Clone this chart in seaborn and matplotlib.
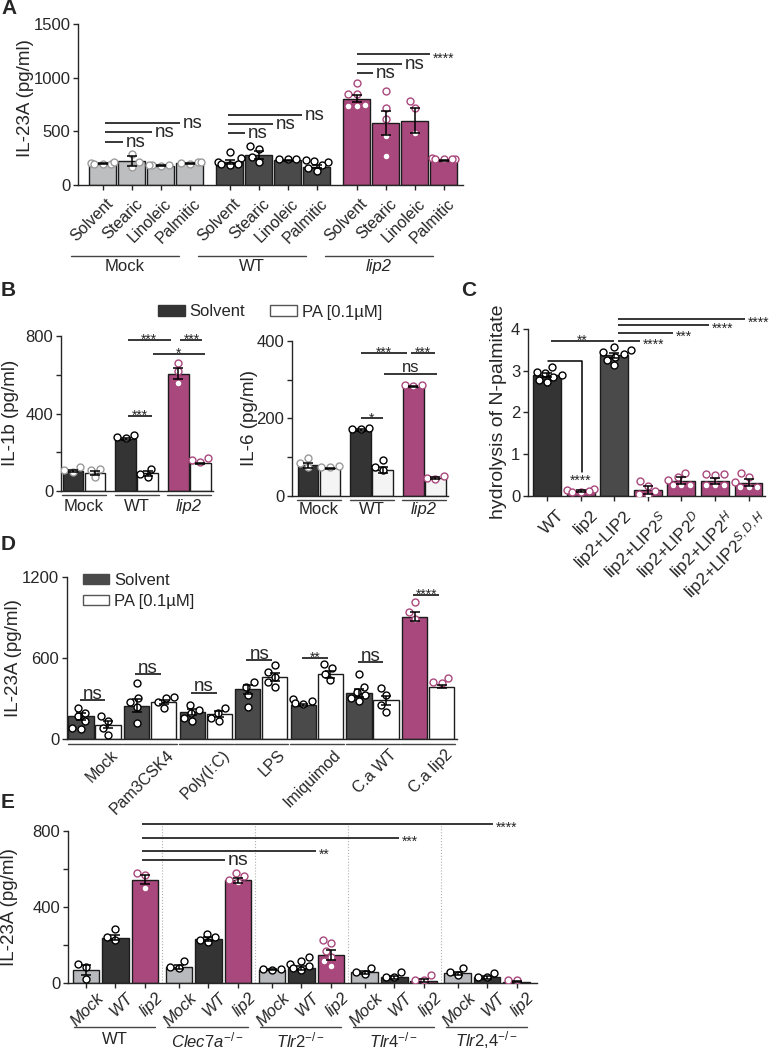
import warnings
import numpy as np
import pandas as pd
import seaborn as sns
import matplotlib.pyplot as plt
from matplotlib import transforms
from matplotlib.patches import Patch

warnings.filterwarnings("ignore")

W, H = 777, 1050

# colours
MOCK = '#bdbec0'
DARK = '#343434'
MID = '#4a4a4a'
LIP2 = '#a9487c'
DOT_GREY = '#9a9a9a'
PA_LIGHT = '#f4f4f4'

# ---- Panel A: IL-23A, fatty acids
a_groups = ['Mock', 'WT', 'lip2']
a_treatments = ['Solvent', 'Stearic', 'Linoleic', 'Palmitic']
a_means = [198, 224, 178, 203, 212, 280, 230, 172, 805, 580, 598, 228]
a_sems = [6, 45, 4, 6, 18, 35, 4, 18, 35, 110, 115, 5]
a_points = [[195, 205, 200, 210, 198], [285, 215, 170], [185, 182, 188, 180],
            [210, 205, 200, 215], [305, 250, 215, 200, 190, 195], [360, 335, 265, 215],
            [240, 245, 238], [235, 225, 210, 190, 160, 130],
            [948, 845, 845, 750, 736, 736], [876, 720, 612, 457, 270], [783, 715, 487],
            [250, 245, 240, 245, 238]]
# (bar i, dx, bar j, dx, level, text)
a_sig = [(0, 0.1, 1, -0.3, 404, 'ns'), (0, 0.1, 2, -0.3, 491, 'ns'), (0, 0.1, 3, -0.33, 575, 'ns'),
         (4, -0.05, 5, -0.47, 488, 'ns'), (4, -0.05, 6, -0.5, 568, 'ns'), (4, -0.05, 7, -0.5, 652, 'ns'),
         (8, 0.02, 9, -0.43, 1047, 'ns'), (8, 0.02, 10, -0.43, 1131, 'ns'), (8, 0.02, 11, -0.47, 1218, '****')]

# ---- Panel B: IL-1b and IL-6
b_groups = ['Mock', 'WT', 'lip2']
b1_means = [105, 94, 268, 91, 606, 142]
b1_sems = [5, 10, 4, 12, 30, 5]
b1_points = [[125, 108, 100], [112, 110, 72], [288, 280, 276], [112, 90, 72],
             [663, 620, 555], [168, 151, 160]]
b1_sig = [(2, 0.1, 4, -0.35, 778, '***'), (4, 0.1, 5, 0.1, 778, '***'),
          (3, 0.25, 5, 0.2, 706, '*'), (2, 0.1, 3, 0.2, 386, '***')]
b6_means = [79, 71, 170, 68, 282, 47]
b6_sems = [6, 2, 2, 8, 2, 3]
b6_points = [[97, 84, 75], [77, 74, 76], [174, 172, 175], [92, 75, 66],
             [286, 284, 287], [52, 45, 47]]
b6_sig = [(2, 0.0, 4, -0.3, 370, '***'), (4, -0.1, 5, 0.0, 370, '***'),
          (3, 0.05, 5, 0.1, 316, 'ns'), (2, 0.0, 3, 0.0, 200, '*')]

# ---- Panel C: hydrolysis of N-palmitate
c_labels = ['WT', 'lip2', 'lip2+LIP2', r'lip2+LIP2$^{S}$', r'lip2+LIP2$^{D}$',
            r'lip2+LIP2$^{H}$', r'lip2+LIP2$^{S,D,H}$']
c_means = [2.9, 0.12, 3.37, 0.14, 0.37, 0.36, 0.32]
c_sems = [0.05, 0.02, 0.06, 0.1, 0.08, 0.08, 0.08]
c_points = [[3.08, 2.98, 2.95, 2.9, 2.86, 2.78, 2.72], [0.16, 0.14, 0.12, 0.1, 0.1],
            [3.56, 3.5, 3.44, 3.4, 3.34, 3.26, 3.14], [0.36, 0.25, 0.12, 0.05, 0.02],
            [0.54, 0.45, 0.38, 0.27, 0.27, 0.27], [0.52, 0.52, 0.5, 0.26, 0.26, 0.26],
            [0.54, 0.46, 0.34, 0.22, 0.22, 0.22]]
c_sig_side = [(2, 0.11, 3, -0.23, 3.72, '****'), (2, 0.11, 4, -0.25, 3.9, '***'),
              (2, 0.11, 5, -0.18, 4.1, '****'), (2, 0.11, 6, -0.11, 4.24, '****')]
c_sig_top = [(0, 0.12, 2, 0.0, 3.72, '**')]
c_bracket = (0, 1, 3.24, 0.58, 0.46, '****')

# ---- Panel D: IL-23A, TLR ligands
d_stimuli = ['Mock', 'Pam3CSK4', 'Poly(I:C)', 'LPS', 'Imiquimod', 'C.a WT', 'C.a lip2']
d_means = [167, 105, 248, 272, 199, 186, 368, 461, 252, 478, 338, 287, 907, 387]
d_sems = [25, 25, 50, 15, 20, 20, 35, 30, 10, 25, 30, 35, 35, 10]
d_points = [[233, 196, 167, 130, 81, 74], [167, 130, 81, 32], [412, 301, 277, 240, 118],
            [314, 301, 277, 228], [252, 216, 191, 154, 130], [228, 191, 154, 130],
            [419, 387, 326, 240], [547, 498, 461, 424, 387], [300, 285, 270, 262],
            [559, 527, 485, 436], [480, 387, 350, 326, 301, 282], [375, 326, 252, 203],
            [1012, 939, 890], [453, 424, 412]]
d_sig_levels = [289, 478, 343, 583, 603, 571, 1069]
d_sig_text = ['ns', 'ns', 'ns', 'ns', '**', 'ns', '****']

# ---- Panel E: IL-23A in knockout cells
e_groups = ['WT', r'$\mathit{Clec7a}^{-/-}$', r'$\mathit{Tlr2}^{-/-}$',
            r'$\mathit{Tlr4}^{-/-}$', r'$\mathit{Tlr2{,}4}^{-/-}$']
e_strains = ['Mock', 'WT', 'lip2']
e_means = [68, 239, 544, 86, 230, 540, 71, 81, 147, 57, 30, 12, 51, 30, 6]
e_sems = [25, 15, 25, 10, 10, 12, 3, 10, 25, 8, 8, 8, 8, 8, 3]
e_points = [[102, 84, 23], [286, 242, 225], [579, 567, 502],
            [114, 84, 79], [260, 242, 225, 216], [579, 561, 540, 532],
            [75, 72, 70], [137, 117, 102, 91, 77, 68], [226, 208, 170, 135, 114, 88],
            [77, 59, 48], [57, 33, 30], [40, 17, 14],
            [77, 59, 42], [55, 33, 30], [17, 14]]
e_sig = [(2, -0.1, 5, -0.44, 647, 'ns'), (2, -0.1, 8, -0.5, 695, '**'),
         (2, -0.1, 11, -0.85, 763, '***'), (2, -0.1, 14, -0.8, 837, '****')]

sns.set_theme(style='ticks')
plt.rcParams['font.family'] = ['Liberation Sans', 'DejaVu Sans']
plt.rcParams['mathtext.fontset'] = 'custom'
plt.rcParams['mathtext.rm'] = 'Liberation Sans'
plt.rcParams['mathtext.it'] = 'Liberation Sans:italic'
plt.rcParams['mathtext.bf'] = 'Liberation Sans:bold'
plt.rcParams['axes.linewidth'] = 1.0
plt.rcParams['xtick.major.width'] = 1.0
plt.rcParams['ytick.major.width'] = 1.0
plt.rcParams['ytick.minor.width'] = 1.0
plt.rcParams['ytick.major.size'] = 3.5
plt.rcParams['ytick.minor.size'] = 3.5
plt.rcParams['ytick.labelsize'] = 12
plt.rcParams['ytick.major.pad'] = 2

fig = plt.figure(figsize=(W / 100, H / 100), dpi=100)


def px_rect(x0, y0, x1, y1):
    return [x0 / W, 1 - y1 / H, (x1 - x0) / W, (y1 - y0) / H]


def ftext(x, y, s, **kw):
    fig.text(x / W, 1 - y / H, s, **kw)


def draw_bars(ax, pos, means, sems, colors, width, points, edges, cap=3.5):
    df = pd.DataFrame({'pos': pos, 'val': means, 'key': [f'b{i}' for i in range(len(pos))]})
    sns.barplot(data=df, x='pos', y='val', hue='key', palette=dict(zip(df['key'], colors)),
                native_scale=True, width=width, saturation=1, errorbar=None,
                edgecolor='#1c1c1c', linewidth=1.0, legend=False, ax=ax, zorder=2)
    rows = [(p, v, e) for p, vals, e in zip(pos, points, edges) for v in vals]
    dots = pd.DataFrame(rows, columns=['pos', 'val', 'edge'])
    for edge, sub in dots.groupby('edge'):
        sns.swarmplot(data=sub, x='pos', y='val', native_scale=True, color='white',
                      edgecolor=edge, linewidth=1.0, size=5, ax=ax, zorder=3, warn_thresh=1)
    ax.errorbar(pos, means, yerr=sems, fmt='none', ecolor='black', elinewidth=1.1,
                capsize=cap, capthick=1.1, zorder=4)
    ax.set_xlabel('')
    ax.set_ylabel('')
    sns.despine(ax=ax)


def sig_side(ax, x1, x2, y, txt, fs):
    ax.plot([x1, x2], [y, y], color='black', lw=1.1, clip_on=False, solid_capstyle='butt')
    off = -0.58 * fs if '*' in txt else -0.27 * fs
    tr = transforms.offset_copy(ax.transData, fig=fig, x=2, y=off, units='points')
    ax.text(x2, y, txt, ha='left', va='baseline', fontsize=fs, transform=tr, clip_on=False)


def sig_top(ax, x1, x2, y, txt, fs):
    ax.plot([x1, x2], [y, y], color='black', lw=1.1, clip_on=False, solid_capstyle='butt')
    off = -0.43 * fs + 1.5 if '*' in txt else 1.0
    tr = transforms.offset_copy(ax.transData, fig=fig, x=0, y=off, units='points')
    ax.text((x1 + x2) / 2, y, txt, ha='center', va='baseline', fontsize=fs,
            transform=tr, clip_on=False)


def rot_labels(ax, xs, labels, dx, yfrac, fs, style='normal'):
    tr = ax.get_xaxis_transform()
    for x, lab in zip(xs, labels):
        ax.text(x + dx, yfrac, lab, transform=tr, rotation=45, rotation_mode='anchor',
                ha='right', va='top', fontsize=fs, style=style, clip_on=False)


def group_lines(ax, spans, names, yline, ylab, fs, color='#444444'):
    tr = ax.get_xaxis_transform()
    for (x0, x1), name in zip(spans, names):
        ax.plot([x0, x1], [yline, yline], transform=tr, clip_on=False, color=color, lw=1.0)
        ax.text((x0 + x1) / 2, ylab, name, transform=tr, ha='center', va='center', fontsize=fs,
                style='italic' if name == 'lip2' else 'normal')


# ================= A =================
a_pos = [g * 4.38 + i for g in range(3) for i in range(4)]
axA = fig.add_axes(px_rect(78, 24, 463, 185))
draw_bars(axA, a_pos, a_means, a_sems, [MOCK] * 4 + [MID] * 4 + [LIP2] * 4, 0.95,
          a_points, [DOT_GREY] * 4 + ['black'] * 4 + [LIP2] * 4)
axA.set_xlim(-0.845, 12.43)
axA.set_ylim(0, 1500)
axA.set_yticks([0, 500, 1000, 1500])
axA.set_xticks(a_pos)
axA.set_xticklabels([])
axA.tick_params(axis='x', length=3.6)
rot_labels(axA, a_pos, a_treatments * 3, 0.12, -0.068, 11.5)
group_lines(axA, [(g * 4.38 - 1.1, g * 4.38 + 2.65) for g in range(3)], a_groups, -0.441, -0.509, 12)
for i, d1, j, d2, lev, txt in a_sig:
    sig_side(axA, a_pos[i] + d1, a_pos[j] + d2, lev, txt, 10 if '*' in txt else 13.5)

# ================= B =================
b_pos = [g * 2.39 + i for g in range(3) for i in range(2)]
b_edges = [DOT_GREY, DOT_GREY, 'black', 'black', LIP2, LIP2]
b_spans = [(g * 2.39 - 0.5, g * 2.39 + 1.5) for g in range(3)]

axB1 = fig.add_axes(px_rect(61, 336, 213, 491))
draw_bars(axB1, b_pos, b1_means, b1_sems, [DARK, 'white', DARK, 'white', LIP2, 'white'],
          0.95, b1_points, b_edges)
axB1.set_xlim(-0.545, 6.36)
axB1.set_ylim(0, 800)
axB1.set_yticks([0, 400, 800])
axB1.set_yticks([200, 600], minor=True)
axB1.set_xticks([])
group_lines(axB1, b_spans, b_groups, -0.026, -0.103, 12)
for i, d1, j, d2, lev, txt in b1_sig:
    sig_top(axB1, b_pos[i] + d1, b_pos[j] + d2, lev, txt, 10 if '*' in txt else 13)

axB2 = fig.add_axes(px_rect(292, 341, 448, 496))
draw_bars(axB2, b_pos, b6_means, b6_sems, [DARK, PA_LIGHT, DARK, PA_LIGHT, LIP2, PA_LIGHT],
          0.95, b6_points, b_edges)
axB2.set_xlim(-0.727, 6.36)
axB2.set_ylim(0, 400)
axB2.set_yticks([0, 200, 400])
axB2.set_yticks([100, 300], minor=True)
axB2.set_xticks([])
group_lines(axB2, b_spans, b_groups, -0.026, -0.09, 12)
for i, d1, j, d2, lev, txt in b6_sig:
    sig_top(axB2, b_pos[i] + d1, b_pos[j] + d2, lev, txt, 10 if '*' in txt else 12)

fig.legend(handles=[Patch(facecolor=DARK, edgecolor=DARK, label='Solvent'),
                    Patch(facecolor='white', edgecolor='#555555', label='PA [0.1µM]')],
           loc='center', bbox_to_anchor=(270 / W, 1 - 312 / H), ncol=2, frameon=False,
           fontsize=12, handlelength=1.6, handleheight=0.6, handletextpad=0.3, columnspacing=1.5)

# ================= C =================
c_pos = list(range(len(c_means)))
axC = fig.add_axes(px_rect(528, 329, 765, 496))
draw_bars(axC, c_pos, c_means, c_sems, [DARK, LIP2, MID, LIP2, LIP2, LIP2, LIP2], 0.83,
          c_points, ['black', LIP2, 'black', LIP2, LIP2, LIP2, LIP2])
axC.set_xlim(-0.565, 6.49)
axC.set_ylim(0, 4)
axC.set_yticks([0, 1, 2, 3, 4])
axC.set_xticks(c_pos)
axC.set_xticklabels([])
axC.tick_params(axis='x', length=3.6)
rot_labels(axC, c_pos, c_labels, 0.28, -0.07, 12.5)
for i, d1, j, d2, lev, txt in c_sig_side:
    sig_side(axC, c_pos[i] + d1, c_pos[j] + d2, lev, txt, 10)
for i, d1, j, d2, lev, txt in c_sig_top:
    sig_top(axC, c_pos[i] + d1, c_pos[j] + d2, lev, txt, 10)
bi, bj, top, low, tpos, ttxt = c_bracket
axC.plot([c_pos[bi] + 0.03, c_pos[bj] + 0.04, c_pos[bj] + 0.04], [top, top, low],
         color='black', lw=1.1, zorder=5)
tr = transforms.offset_copy(axC.transData, fig=fig, x=0, y=-5.8, units='points')
axC.text(c_pos[bj], tpos, ttxt, ha='center', va='baseline', fontsize=10, transform=tr)

# ================= D =================
d_pos = [g * 2.06 + i for g in range(7) for i in range(2)]
d_colors = [MID, 'white'] * 6 + [LIP2, 'white']
d_edges = ['black'] * 12 + [LIP2, LIP2]
axD = fig.add_axes(px_rect(67, 577, 457, 739))
draw_bars(axD, d_pos, d_means, d_sems, d_colors, 0.93, d_points, d_edges)
axD.set_xlim(-0.52, 13.93)
axD.set_ylim(0, 1200)
axD.set_yticks([0, 600, 1200])
axD.set_xticks([])
tr = axD.get_xaxis_transform()
for g in range(7):
    axD.plot([g * 2.06 - 0.5, g * 2.06 + 1.5], [-0.031, -0.031], transform=tr,
             clip_on=False, color='#444444', lw=1.0)
rot_labels(axD, [g * 2.06 + 0.5 for g in range(7)], d_stimuli, 0.6, -0.05, 11.5)
for g in range(7):
    txt = d_sig_text[g]
    sig_top(axD, d_pos[2 * g] - 0.05, d_pos[2 * g + 1] - 0.1, d_sig_levels[g], txt,
            10 if '*' in txt else 13.5)
axD.legend(handles=[Patch(facecolor=MID, edgecolor=MID, label='Solvent'),
                    Patch(facecolor='white', edgecolor='#555555', label='PA [0.1µM]')],
           loc='upper left', bbox_to_anchor=(0.04, 1.025), frameon=False, fontsize=12,
           borderaxespad=0, borderpad=0, handlelength=1.6, handleheight=0.6,
           handletextpad=0.3, labelspacing=0.35)

# ================= E =================
e_pos = [g * 3.15 + i for g in range(5) for i in range(3)]
axE = fig.add_axes(px_rect(68, 831, 537, 983))
draw_bars(axE, e_pos, e_means, e_sems, ['#b8b9bc', DARK, LIP2] * 5, 0.9, e_points,
          ['black', 'black', LIP2] * 5)
axE.set_xlim(-0.61, 15.29)
axE.set_ylim(0, 800)
axE.set_yticks([0, 400, 800])
axE.set_yticks([200, 600], minor=True)
axE.set_xticks(e_pos)
axE.set_xticklabels([])
axE.tick_params(axis='x', length=3.6)
for g in range(4):
    xm = (e_pos[3 * g + 2] + e_pos[3 * g + 3]) / 2
    axE.plot([xm, xm], [0, 835], color='#b0b0b0', lw=0.8, ls=':', clip_on=False, zorder=0)
rot_labels(axE, e_pos, e_strains * 5, 0.35, -0.045, 12, style='italic')
group_lines(axE, [(g * 3.15 - 0.4, g * 3.15 + 2.35) for g in range(5)], e_groups, -0.29, -0.375, 12)
for i, d1, j, d2, lev, txt in e_sig:
    sig_side(axE, e_pos[i] + d1, e_pos[j] + d2, lev, txt, 10 if '*' in txt else 14)

# ---- y labels and panel letters
ftext(25, 98, 'IL-23A (pg/ml)', rotation=90, ha='center', va='center', fontsize=13.5)
ftext(11, 413, 'IL-1b (pg/ml)', rotation=90, ha='center', va='center', fontsize=13.5)
ftext(249, 418, 'IL-6 (pg/ml)', rotation=90, ha='center', va='center', fontsize=13.5)
ftext(498, 412, 'hydrolysis of N-palmitate', rotation=90, ha='center', va='center', fontsize=14)
ftext(14, 658, 'IL-23A (pg/ml)', rotation=90, ha='center', va='center', fontsize=13.5)
ftext(10, 907, 'IL-23A (pg/ml)', rotation=90, ha='center', va='center', fontsize=13.5)
for letter, x, y in [('A', 1, 9), ('B', 1, 291), ('C', 461, 291), ('D', 1, 544), ('E', 1, 803)]:
    ftext(x, y, letter, ha='left', va='center', fontsize=15, fontweight='bold')

fig.savefig('out.png', dpi=100)
